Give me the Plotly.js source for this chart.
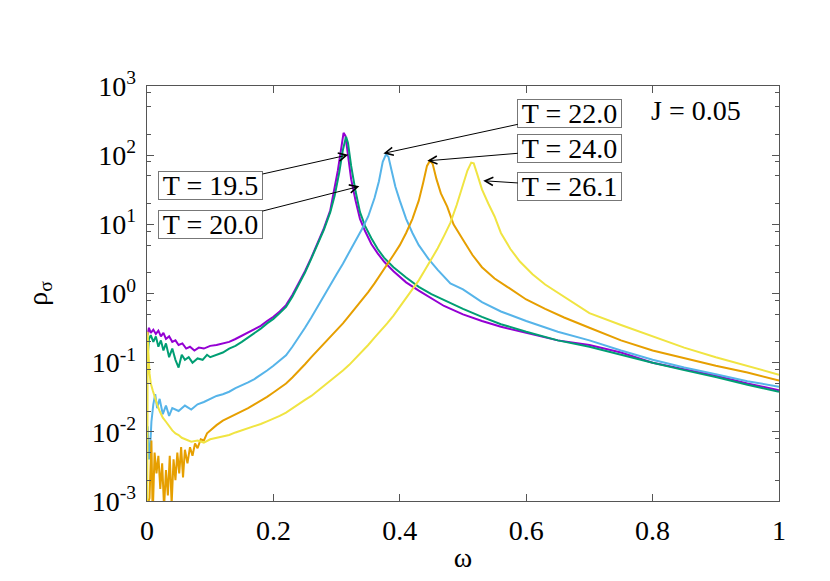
<!DOCTYPE html>
<html>
<head>
<meta charset="utf-8">
<script src="https://cdn.plot.ly/plotly-3.0.1.min.js"></script>
<style>html,body{margin:0;padding:0;background:#fff;}#chart{width:830px;height:581px;}</style>
</head>
<body>
<div id="chart"></div>
<script>
// ---- data ----
const seriesNames = ["T = 19.5", "T = 20.0", "T = 22.0", "T = 24.0", "T = 26.1"];
const seriesColors = ["#9400d3", "#009e73", "#56b4e9", "#e69f00", "#f0e442"];

const omega195 = [0.001,0.003,0.006,0.01,0.014,0.018,0.022,0.026,0.03,0.035,0.04,0.045,0.05,0.056,0.062,0.068,0.075,0.082,0.09,0.1,0.11,0.12,0.13,0.14,0.15,0.16,0.17,0.18,0.19,0.2,0.21,0.22,0.23,0.24,0.25,0.26,0.27,0.28,0.29,0.296,0.302,0.307,0.311,0.314,0.318,0.323,0.33,0.337,0.345,0.355,0.365,0.375,0.39,0.41,0.43,0.45,0.47,0.5,0.53,0.56,0.6,0.65,0.7,0.75,0.8,0.85,0.9,0.95,1.0];
const rho195 = [0.25,0.32,0.27,0.30,0.26,0.29,0.24,0.27,0.22,0.24,0.20,0.21,0.18,0.19,0.16,0.17,0.15,0.165,0.16,0.175,0.18,0.19,0.20,0.22,0.245,0.27,0.30,0.34,0.40,0.46,0.55,0.68,0.95,1.4,2.1,3.3,5.3,8.8,16,30,60,120,210,190,100,45,22,12,8.0,5.2,3.8,2.9,2.1,1.45,1.1,0.85,0.66,0.5,0.40,0.33,0.27,0.21,0.18,0.14,0.10,0.08,0.065,0.05,0.04];

const omega200 = [0.001,0.003,0.006,0.01,0.014,0.018,0.022,0.026,0.03,0.035,0.04,0.045,0.05,0.055,0.06,0.066,0.072,0.08,0.088,0.095,0.1,0.11,0.12,0.13,0.14,0.15,0.16,0.17,0.18,0.19,0.2,0.21,0.22,0.23,0.24,0.25,0.26,0.27,0.28,0.29,0.297,0.304,0.31,0.315,0.318,0.323,0.33,0.337,0.345,0.355,0.365,0.375,0.39,0.41,0.43,0.45,0.47,0.5,0.53,0.56,0.6,0.65,0.7,0.75,0.8,0.85,0.9,0.95,1.0];
const rho200 = [0.12,0.22,0.25,0.20,0.24,0.17,0.21,0.15,0.19,0.12,0.16,0.11,0.085,0.13,0.11,0.12,0.10,0.115,0.11,0.13,0.12,0.13,0.14,0.16,0.175,0.20,0.23,0.27,0.31,0.37,0.43,0.52,0.64,0.9,1.35,2.0,3.2,5.1,8.4,15,26,55,120,185,150,70,30,15,9.5,6.3,4.4,3.3,2.4,1.7,1.25,0.98,0.80,0.60,0.46,0.36,0.28,0.21,0.17,0.13,0.10,0.078,0.062,0.048,0.038];

const omega220 = [0.001,0.003,0.005,0.007,0.01,0.013,0.016,0.02,0.025,0.03,0.035,0.04,0.05,0.06,0.07,0.08,0.09,0.1,0.11,0.12,0.13,0.14,0.15,0.16,0.17,0.18,0.19,0.2,0.21,0.22,0.23,0.24,0.25,0.26,0.27,0.28,0.29,0.3,0.31,0.32,0.33,0.34,0.35,0.36,0.367,0.373,0.378,0.382,0.387,0.393,0.4,0.41,0.42,0.43,0.445,0.46,0.48,0.5,0.53,0.56,0.6,0.65,0.7,0.75,0.8,0.85,0.9,0.95,1.0];
const rho220 = [0.012,0.004,0.006,0.014,0.025,0.035,0.022,0.03,0.018,0.024,0.017,0.022,0.02,0.024,0.021,0.025,0.027,0.03,0.033,0.035,0.038,0.043,0.047,0.052,0.058,0.066,0.077,0.09,0.106,0.128,0.17,0.23,0.32,0.45,0.65,0.95,1.35,1.9,2.7,3.9,5.6,8.5,13,24,42,80,102,95,60,35,22,12,7.5,5.0,3.2,2.2,1.4,1.15,0.75,0.55,0.40,0.28,0.21,0.15,0.11,0.085,0.068,0.054,0.045];

const omega240 = [0.001,0.004,0.007,0.009,0.012,0.015,0.018,0.021,0.024,0.027,0.03,0.033,0.036,0.039,0.042,0.045,0.048,0.051,0.054,0.057,0.06,0.064,0.068,0.072,0.076,0.08,0.085,0.09,0.095,0.1,0.11,0.12,0.13,0.14,0.15,0.16,0.17,0.18,0.19,0.2,0.21,0.22,0.23,0.24,0.25,0.26,0.27,0.28,0.29,0.3,0.31,0.32,0.33,0.34,0.35,0.36,0.37,0.38,0.39,0.4,0.41,0.42,0.43,0.437,0.443,0.448,0.452,0.458,0.465,0.475,0.485,0.5,0.515,0.53,0.55,0.57,0.6,0.63,0.66,0.7,0.75,0.8,0.85,0.9,0.95,1.0];
const rho240 = [0.0009,0.0011,0.0075,0.0006,0.005,0.0025,0.0045,0.0015,0.0035,0.0008,0.0028,0.0012,0.0045,0.0009,0.004,0.002,0.005,0.0025,0.006,0.0022,0.0055,0.0035,0.006,0.0045,0.0068,0.0058,0.0078,0.0075,0.0095,0.0105,0.0125,0.0145,0.016,0.018,0.02,0.022,0.025,0.028,0.032,0.037,0.043,0.05,0.061,0.075,0.095,0.12,0.15,0.185,0.23,0.29,0.37,0.48,0.62,0.8,1.05,1.4,1.9,2.6,3.6,5.0,7.5,12,22,40,70,84,75,45,28,18,10,6.0,3.6,2.4,1.65,1.25,0.82,0.6,0.45,0.32,0.21,0.15,0.115,0.09,0.072,0.055];

const omega261 = [0.0005,0.001,0.002,0.004,0.006,0.009,0.012,0.016,0.02,0.025,0.03,0.035,0.04,0.045,0.05,0.055,0.06,0.07,0.08,0.09,0.1,0.11,0.12,0.13,0.14,0.15,0.16,0.17,0.18,0.19,0.2,0.21,0.22,0.23,0.24,0.25,0.26,0.27,0.28,0.29,0.3,0.31,0.32,0.33,0.34,0.35,0.36,0.37,0.38,0.39,0.4,0.41,0.42,0.43,0.44,0.45,0.46,0.47,0.48,0.49,0.5,0.507,0.513,0.517,0.522,0.53,0.54,0.55,0.56,0.575,0.59,0.61,0.63,0.66,0.7,0.75,0.8,0.85,0.9,0.95,1.0];
const rho261 = [0.0008,0.28,0.15,0.07,0.05,0.04,0.032,0.025,0.02,0.016,0.014,0.012,0.0105,0.0095,0.009,0.0082,0.0078,0.0072,0.0075,0.007,0.0078,0.0082,0.0086,0.009,0.0098,0.0105,0.0113,0.0122,0.013,0.0142,0.0155,0.017,0.019,0.022,0.025,0.029,0.033,0.039,0.046,0.054,0.064,0.077,0.093,0.115,0.145,0.18,0.23,0.29,0.37,0.48,0.65,0.85,1.15,1.55,2.2,3.1,4.5,6.8,10.5,19,36,60,78,76,55,32,20,13,7.5,4.4,2.9,1.9,1.35,0.9,0.52,0.35,0.24,0.165,0.12,0.09,0.067];

const omegaData = [omega195, omega200, omega220, omega240, omega261];
const rhoData = [rho195, rho200, rho220, rho240, rho261];

// axis ticks
const xTickVals = [0, 0.2, 0.4, 0.6, 0.8, 1];
const xTickText = ["0", "0.2", "0.4", "0.6", "0.8", "1"];
const yTickVals = [1e-3, 1e-2, 1e-1, 1e0, 1e1, 1e2, 1e3];
const yTickText = ["10<sup>-3</sup>", "10<sup>-2</sup>", "10<sup>-1</sup>", "10<sup>0</sup>", "10<sup>1</sup>", "10<sup>2</sup>", "10<sup>3</sup>"];
const yMinorMantissas = [2, 5, 8];

// annotation labels: text, arrow tip (omega, rho), box centre (omega, rho)
const labelTexts = ["T = 19.5", "T = 20.0", "T = 22.0", "T = 24.0", "T = 26.1"];
const labelTipOmega = [0.3185, 0.336, 0.374, 0.4435, 0.532];
const labelTipRho = [101, 35.4, 106, 82.8, 42.7];
const labelBoxOmega = [0.1005, 0.1005, 0.669, 0.669, 0.669];
const labelBoxRho = [36.3, 10.0, 406, 123, 35.5];
const jText = "J = 0.05";

// ---- build ----
const FONT = "Liberation Serif, Times New Roman, serif";
const traces = seriesNames.map((n, i) => ({
  type: "scatter", mode: "lines", name: n,
  x: omegaData[i], y: rhoData[i],
  line: {color: seriesColors[i], width: 2},
  showlegend: false, hoverinfo: "skip"
}));

const minorVals = [];
for (let e = -3; e < 3; e++) yMinorMantissas.forEach(m => minorVals.push(m * Math.pow(10, e)));

const annotations = labelTexts.map((t, i) => ({
  text: t, xref: "x", yref: "y", axref: "x", ayref: "y",
  x: labelTipOmega[i], y: Math.log10(labelTipRho[i]),
  ax: labelBoxOmega[i], ay: Math.log10(labelBoxRho[i]),
  showarrow: true, arrowhead: 5, arrowsize: 1.6, arrowwidth: 1, arrowcolor: "#000",
  font: {family: FONT, size: 28, color: "#000"},
  bordercolor: "#777", borderwidth: 1, borderpad: 1, bgcolor: "#fff",
  width: 101, height: 25
}));
annotations.push({
  text: jText, xref: "x", yref: "y", x: 0.8687, y: 2.64, showarrow: false,
  font: {family: FONT, size: 28, color: "#000"}
});

const axisCommon = {
  showgrid: false, zeroline: false, showline: true, linecolor: "#555", linewidth: 1.3,
  mirror: "ticks", ticks: "inside", ticklen: 7, tickwidth: 1, tickcolor: "#555",
  tickfont: {family: FONT, size: 28, color: "#000"}
};

const layout = {
  width: 830, height: 581, autosize: false,
  margin: {l: 147, r: 51, t: 86, b: 80},
  paper_bgcolor: "#fff", plot_bgcolor: "#fff",
  font: {family: FONT, size: 28, color: "#000"},
  xaxis: Object.assign({}, axisCommon, {
    range: [0, 1], tickmode: "array", tickvals: xTickVals, ticktext: xTickText,
    ticklabelstandoff: 4, automargin: true,
    title: {text: "ω", font: {family: FONT, size: 28}, standoff: 2}
  }),
  yaxis: Object.assign({}, axisCommon, {
    type: "log", range: [-3, 3], tickmode: "array", tickvals: yTickVals, ticktext: yTickText,
    ticklabelstandoff: 4, automargin: true,
    minor: {tickmode: "array", tickvals: minorVals, ticks: "inside", ticklen: 4, tickcolor: "#555", tickwidth: 1},
    title: {text: "ρ<sub>σ</sub>", font: {family: FONT, size: 28}, standoff: 36}
  }),
  annotations: annotations
};

Plotly.newPlot("chart", traces, layout, {displayModeBar: false, staticPlot: true});
</script>
</body>
</html>
